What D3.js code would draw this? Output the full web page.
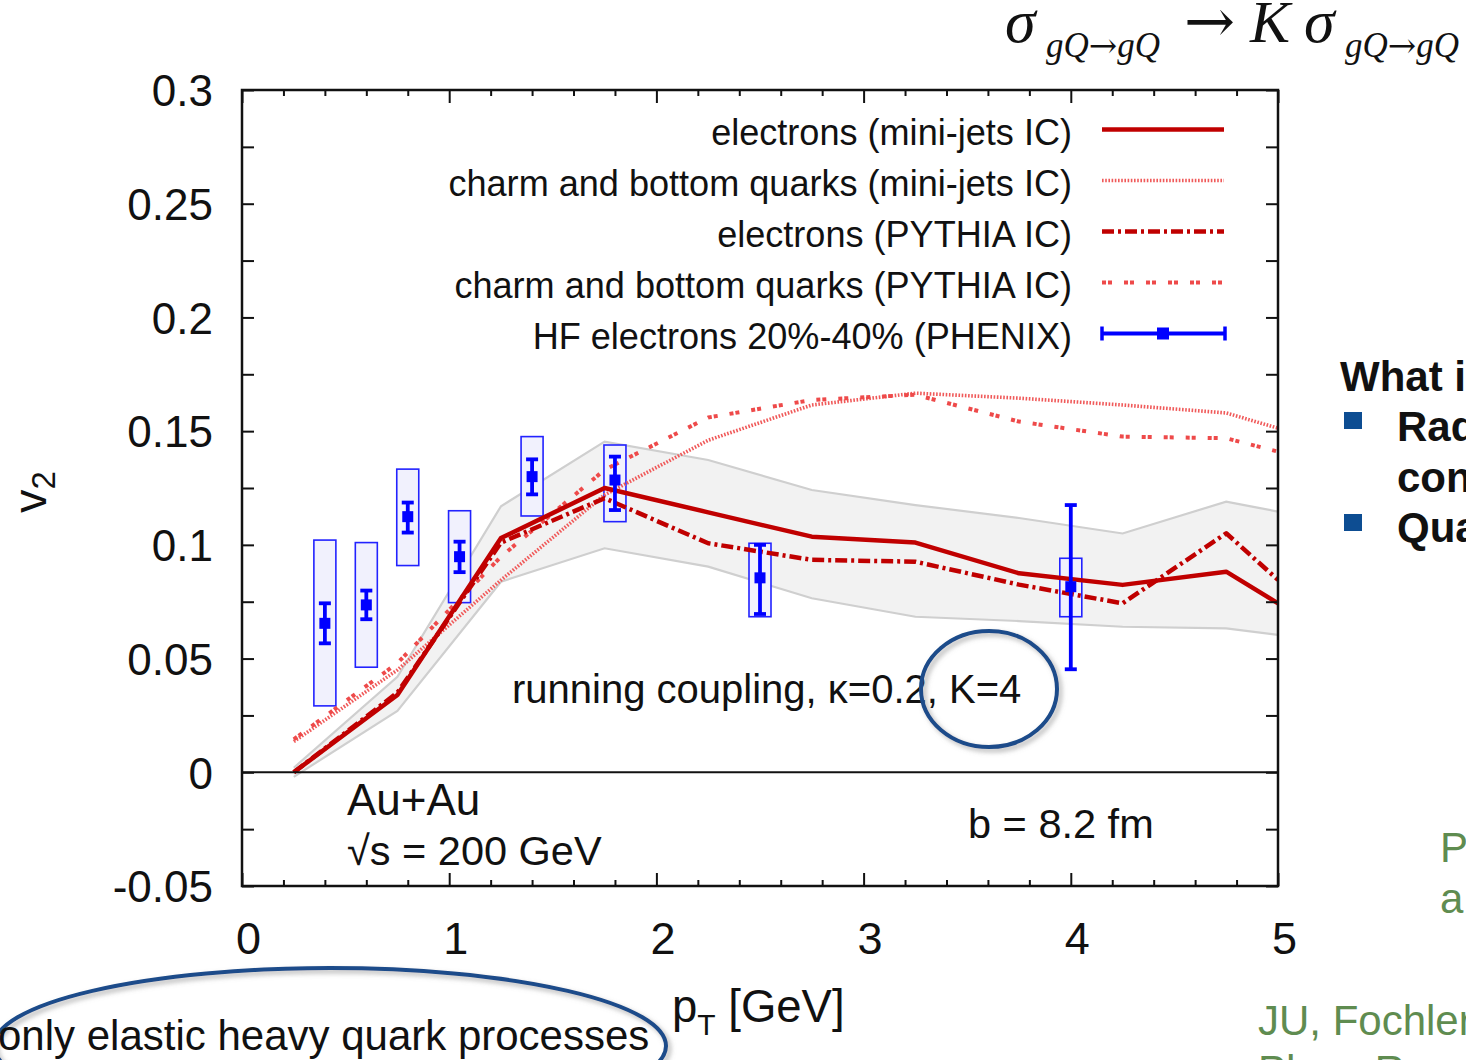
<!DOCTYPE html>
<html><head><meta charset="utf-8">
<script src="https://cdn.jsdelivr.net/npm/d3@7"></script>
<style>body{margin:0;background:#fff;overflow:hidden} svg{display:block}</style>
</head><body><svg id="c" width="1466" height="1060"></svg>
<script>
// ---------- data ----------
const ptGrid = [0.25, 0.75, 1.25, 1.75, 2.25, 2.75, 3.25, 3.75, 4.25, 4.75, 5.0];
const electronsMiniJets = [0, 0.034, 0.103, 0.125, 0.1143, 0.1036, 0.101, 0.0875, 0.0824, 0.0882, 0.0743];
const bandUpper = [0.002, 0.042, 0.117, 0.1454, 0.1373, 0.1241, 0.1175, 0.1118, 0.105, 0.119, 0.1146];
const bandLower = [-0.002, 0.027, 0.0838, 0.0985, 0.0904, 0.0765, 0.0684, 0.0665, 0.064, 0.0633, 0.0604];
const quarksMiniJets = [0.0135, 0.045, 0.0845, 0.122, 0.146, 0.1615, 0.1667, 0.1645, 0.1615, 0.158, 0.1513];
const electronsPythia = [0, 0.035, 0.101, 0.1205, 0.1007, 0.0934, 0.0926, 0.0825, 0.0743, 0.1051, 0.0846];
const quarksPythia = [0.0145, 0.048, 0.0948, 0.133, 0.156, 0.1637, 0.166, 0.1542, 0.1476, 0.1469, 0.141];

const phenixPt     = [0.4, 0.6, 0.8, 1.05, 1.4, 1.8, 2.5, 4.0];
const phenixV2     = [0.0655, 0.0736, 0.1124, 0.0948, 0.130, 0.1285, 0.0855, 0.0816];
const phenixStatLo = [0.0567, 0.0673, 0.1054, 0.0880, 0.1222, 0.1153, 0.0696, 0.0453];
const phenixStatHi = [0.0743, 0.0799, 0.1186, 0.1014, 0.1376, 0.1388, 0.1000, 0.1175];
const phenixSysLo  = [0.0292, 0.0462, 0.0909, 0.0746, 0.1127, 0.1102, 0.0684, 0.0684];
const phenixSysHi  = [0.1021, 0.1010, 0.1333, 0.1150, 0.1476, 0.1439, 0.1007, 0.0941];

const xMajorTicks = [0, 1, 2, 3, 4, 5];
const xTickLabels = ["0", "1", "2", "3", "4", "5"];
const xMinorTicks = [0.2,0.4,0.6,0.8,1.2,1.4,1.6,1.8,2.2,2.4,2.6,2.8,3.2,3.4,3.6,3.8,4.2,4.4,4.6,4.8];
const yMajorTicks = [0.3, 0.25, 0.2, 0.15, 0.1, 0.05, 0, -0.05];
const yTickLabels = ["0.3", "0.25", "0.2", "0.15", "0.1", "0.05", "0", "-0.05"];
const yMinorTicks = [0.275, 0.225, 0.175, 0.125, 0.075, 0.025, -0.025];

const legendLabels = [
  "electrons (mini-jets IC)",
  "charm and bottom quarks (mini-jets IC)",
  "electrons (PYTHIA IC)",
  "charm and bottom quarks (PYTHIA IC)",
  "HF electrons 20%-40% (PHENIX)"
];

// ---------- setup ----------
const FONT = "'Liberation Sans', Arial, Helvetica, sans-serif";
const SERIF = "'Liberation Serif', 'Times New Roman', serif";
const svg = d3.select('#c');
const x = d3.scaleLinear().domain([0, 5]).range([242, 1278]);
const y = d3.scaleLinear().domain([-0.05, 0.3]).range([886, 90]);

const defs = svg.append('defs');
const f = defs.append('filter').attr('id','sh').attr('x','-20%').attr('y','-20%').attr('width','140%').attr('height','140%');
f.append('feDropShadow').attr('dx',3).attr('dy',3).attr('stdDeviation',2.5).attr('flood-color','#777').attr('flood-opacity',0.55);
defs.append('clipPath').attr('id','plotclip').append('rect')
  .attr('x', x(0)).attr('y', y(0.3)).attr('width', x(5)-x(0)).attr('height', y(-0.05)-y(0.3));

const plot = svg.append('g').attr('clip-path','url(#plotclip)');

// band
const band = ptGrid.map((p,i)=>({p, lo: bandLower[i], hi: bandUpper[i]}));
plot.append('path').datum(band)
  .attr('d', d3.area().x(d=>x(d.p)).y0(d=>y(d.lo)).y1(d=>y(d.hi)))
  .attr('fill','#f2f2f2').attr('stroke','none');
plot.append('path').datum(band).attr('d', d3.line().x(d=>x(d.p)).y(d=>y(d.hi)))
  .attr('fill','none').attr('stroke','#cfcfcf').attr('stroke-width',2.2);
plot.append('path').datum(band).attr('d', d3.line().x(d=>x(d.p)).y(d=>y(d.lo)))
  .attr('fill','none').attr('stroke','#cfcfcf').attr('stroke-width',2.2);

// zero line
svg.append('line').attr('x1',x(0)).attr('x2',x(5)).attr('y1',y(0)).attr('y2',y(0))
  .attr('stroke','#111').attr('stroke-width',2);

// PHENIX sys boxes
const phenix = phenixPt.map((p,i)=>({p, v: phenixV2[i], sl: phenixStatLo[i], sh: phenixStatHi[i], yl: phenixSysLo[i], yh: phenixSysHi[i]}));
plot.selectAll('rect.sys').data(phenix).enter().append('rect')
  .attr('x', d=>x(d.p)-11).attr('width', 22)
  .attr('y', d=>y(d.yh)).attr('height', d=>y(d.yl)-y(d.yh))
  .attr('fill','#f1f1fd').attr('stroke','#2222ff').attr('stroke-width',1.6);

// curves
const styles = [
  {data: quarksMiniJets, color:'#f05a5a', w:3.6, dash:'1.6,1.6'},
  {data: quarksPythia, color:'#ee4a4a', w:4, dash:'4,2,4,12'},
  {data: electronsPythia, color:'#c00000', w:4.5, dash:'12,4,3,4'},
  {data: electronsMiniJets, color:'#c00000', w:4.5, dash:null}
];
const line = d3.line().x(d=>x(d[0])).y(d=>y(d[1]));
styles.forEach(s=>{
  plot.append('path').datum(ptGrid.map((p,i)=>[p, s.data[i]]))
    .attr('d', line).attr('fill','none').attr('stroke', s.color)
    .attr('stroke-width', s.w).attr('stroke-dasharray', s.dash)
    .attr('stroke-linejoin','round');
});

// stat error bars + markers
const eb = plot.selectAll('g.eb').data(phenix).enter().append('g');
eb.append('line').attr('x1',d=>x(d.p)).attr('x2',d=>x(d.p)).attr('y1',d=>y(d.sl)).attr('y2',d=>y(d.sh))
  .attr('stroke','#0000ff').attr('stroke-width',3.8);
eb.append('line').attr('x1',d=>x(d.p)-6).attr('x2',d=>x(d.p)+6).attr('y1',d=>y(d.sl)).attr('y2',d=>y(d.sl))
  .attr('stroke','#0000ff').attr('stroke-width',3.8);
eb.append('line').attr('x1',d=>x(d.p)-6).attr('x2',d=>x(d.p)+6).attr('y1',d=>y(d.sh)).attr('y2',d=>y(d.sh))
  .attr('stroke','#0000ff').attr('stroke-width',3.8);
eb.append('rect').attr('x',d=>x(d.p)-5.5).attr('y',d=>y(d.v)-5.5).attr('width',11).attr('height',11).attr('fill','#0000ff');

// frame + axes
function styleAxis(g){ g.select('.domain').remove(); g.selectAll('line').attr('stroke','#111').attr('stroke-width',2); }
svg.append('g').attr('transform',`translate(0,${y(-0.05)})`).call(d3.axisBottom(x).tickValues(xMinorTicks).tickSize(-6).tickFormat('')).call(styleAxis);
svg.append('g').attr('transform',`translate(0,${y(0.3)})`).call(d3.axisTop(x).tickValues(xMinorTicks).tickSize(-6).tickFormat('')).call(styleAxis);
svg.append('g').attr('transform',`translate(0,${y(0.3)})`).call(d3.axisTop(x).tickValues(xMajorTicks).tickSize(-13).tickFormat('')).call(styleAxis);
const bx = svg.append('g').attr('transform',`translate(0,${y(-0.05)})`)
  .call(d3.axisBottom(x).tickValues(xMajorTicks).tickSize(-13).tickPadding(36).tickFormat((d,i)=>xTickLabels[i])).call(styleAxis);
bx.selectAll('text').attr('font-family',FONT).attr('font-size',45).attr('fill','#111').attr('dx',6);
svg.append('g').attr('transform',`translate(${x(0)},0)`).call(d3.axisLeft(y).tickValues(yMinorTicks).tickSize(-12).tickFormat('')).call(styleAxis);
svg.append('g').attr('transform',`translate(${x(5)},0)`).call(d3.axisRight(y).tickValues(yMinorTicks).tickSize(-12).tickFormat('')).call(styleAxis);
svg.append('g').attr('transform',`translate(${x(5)},0)`).call(d3.axisRight(y).tickValues(yMajorTicks).tickSize(-12).tickFormat('')).call(styleAxis);
const ly = svg.append('g').attr('transform',`translate(${x(0)},0)`)
  .call(d3.axisLeft(y).tickValues(yMajorTicks).tickSize(-12).tickPadding(29).tickFormat((d,i)=>yTickLabels[i])).call(styleAxis);
ly.selectAll('text').attr('font-family',FONT).attr('font-size',44).attr('fill','#111').attr('dy','0.36em');
svg.append('rect').attr('x',x(0)).attr('y',y(0.3)).attr('width',x(5)-x(0)).attr('height',y(-0.05)-y(0.3))
  .attr('fill','none').attr('stroke','#111').attr('stroke-width',2.5);

// legend
const lg = svg.append('g');
legendLabels.forEach((t,i)=>{
  const yy = 129.5 + 51*i;
  lg.append('text').attr('x',1072).attr('y',yy+15).attr('text-anchor','end')
    .attr('font-family',FONT).attr('font-size',36.1).attr('fill','#111').text(t);
  if (i < 4) {
    const s = [styles[3], styles[0], styles[2], styles[1]][i];
    lg.append('line').attr('x1',1102).attr('x2',1224).attr('y1',yy).attr('y2',yy)
      .attr('stroke', s.color).attr('stroke-width', s.w).attr('stroke-dasharray', s.dash);
  } else {
    lg.append('line').attr('x1',1102).attr('x2',1225).attr('y1',yy).attr('y2',yy).attr('stroke','#0000ff').attr('stroke-width',4);
    lg.append('line').attr('x1',1102).attr('x2',1102).attr('y1',yy-7).attr('y2',yy+7).attr('stroke','#0000ff').attr('stroke-width',3.5);
    lg.append('line').attr('x1',1225).attr('x2',1225).attr('y1',yy-7).attr('y2',yy+7).attr('stroke','#0000ff').attr('stroke-width',3.5);
    lg.append('rect').attr('x',1157).attr('y',yy-6).attr('width',12).attr('height',12).attr('fill','#0000ff');
  }
});

// annotations inside plot
const txt = (xx,yy,s,size)=>svg.append('text').attr('x',xx).attr('y',yy).attr('font-family',FONT).attr('font-size',size).attr('fill','#111').text(s);
txt(512, 703, "running coupling, κ=0.2, K=4", 40);
txt(347, 815, "Au+Au", 44);
txt(347, 865, "√s = 200 GeV", 41.5);
txt(968, 838, "b = 8.2 fm", 41.5);

// axis titles
const xt = svg.append('text').attr('x',672).attr('y',1022).attr('font-family',FONT).attr('font-size',45.5).attr('fill','#111');
xt.append('tspan').text('p');
xt.append('tspan').attr('font-size',30).attr('dy',13).text('T');
xt.append('tspan').attr('dy',-13).text(' [GeV]');
const yt = svg.append('text').attr('transform','translate(46,513) rotate(-90)').attr('font-family',FONT).attr('font-size',47).attr('fill','#111');
yt.append('tspan').text('v');
yt.append('tspan').attr('font-size',33).attr('dy',9).text('2');

// K=4 ellipse
svg.append('ellipse').attr('cx',989).attr('cy',689).attr('rx',68).attr('ry',58)
  .attr('fill','none').attr('stroke','#1a4c8a').attr('stroke-width',4).attr('filter','url(#sh)');

// bottom-left ellipse & text
svg.append('ellipse').attr('cx',330).attr('cy',1046).attr('rx',336).attr('ry',78)
  .attr('fill','none').attr('stroke','#1a4c8a').attr('stroke-width',4).attr('filter','url(#sh)');
txt(-2, 1050, "only elastic heavy quark processes", 42);

// formula top-right
const ARROW = "'DejaVu Serif', 'DejaVu Sans', serif";
const fm = svg.append('g').attr('font-family',SERIF).attr('fill','#111');
fm.append('text').attr('x',1005).attr('y',42).attr('font-size',62).attr('font-style','italic').text('σ');
const s1 = fm.append('text').attr('x',1046).attr('y',57).attr('font-size',35);
s1.append('tspan').attr('font-style','italic').text('gQ');
s1.append('tspan').attr('font-family',ARROW).attr('font-size',34).text('→');
s1.append('tspan').attr('font-style','italic').text('gQ');
fm.append('text').attr('x',1184).attr('y',42).attr('font-size',61).attr('font-family',ARROW).text('→');
fm.append('text').attr('x',1250).attr('y',42).attr('font-size',60).attr('font-style','italic').text('K');
fm.append('text').attr('x',1304).attr('y',42).attr('font-size',62).attr('font-style','italic').text('σ');
const s2 = fm.append('text').attr('x',1345).attr('y',57).attr('font-size',35);
s2.append('tspan').attr('font-style','italic').text('gQ');
s2.append('tspan').attr('font-family',ARROW).attr('font-size',34).text('→');
s2.append('tspan').attr('font-style','italic').text('gQ');

// right side slide text (partially visible at the window edge)
const bold = (xx,yy,s)=>svg.append('text').attr('x',xx).attr('y',yy).attr('font-family',FONT).attr('font-weight','bold').attr('font-size',42).attr('fill','#111').text(s);
bold(1340, 391, "What i");
svg.append('rect').attr('x',1344).attr('y',412).attr('width',18).attr('height',17).attr('fill','#0d4d92');
bold(1397, 441, "Rad");
bold(1397, 492, "con");
svg.append('rect').attr('x',1344).attr('y',514).attr('width',18).attr('height',17).attr('fill','#0d4d92');
bold(1397, 542, "Qua");
const green = (xx,yy,s)=>svg.append('text').attr('x',xx).attr('y',yy).attr('font-family',FONT).attr('font-size',42).attr('fill','#5f8c50').text(s);
green(1440, 862, "P");
green(1440, 913, "a");
green(1258, 1035, "JU, Fochler");
green(1258, 1085, "Phys. Rev. C");
</script></body></html>
